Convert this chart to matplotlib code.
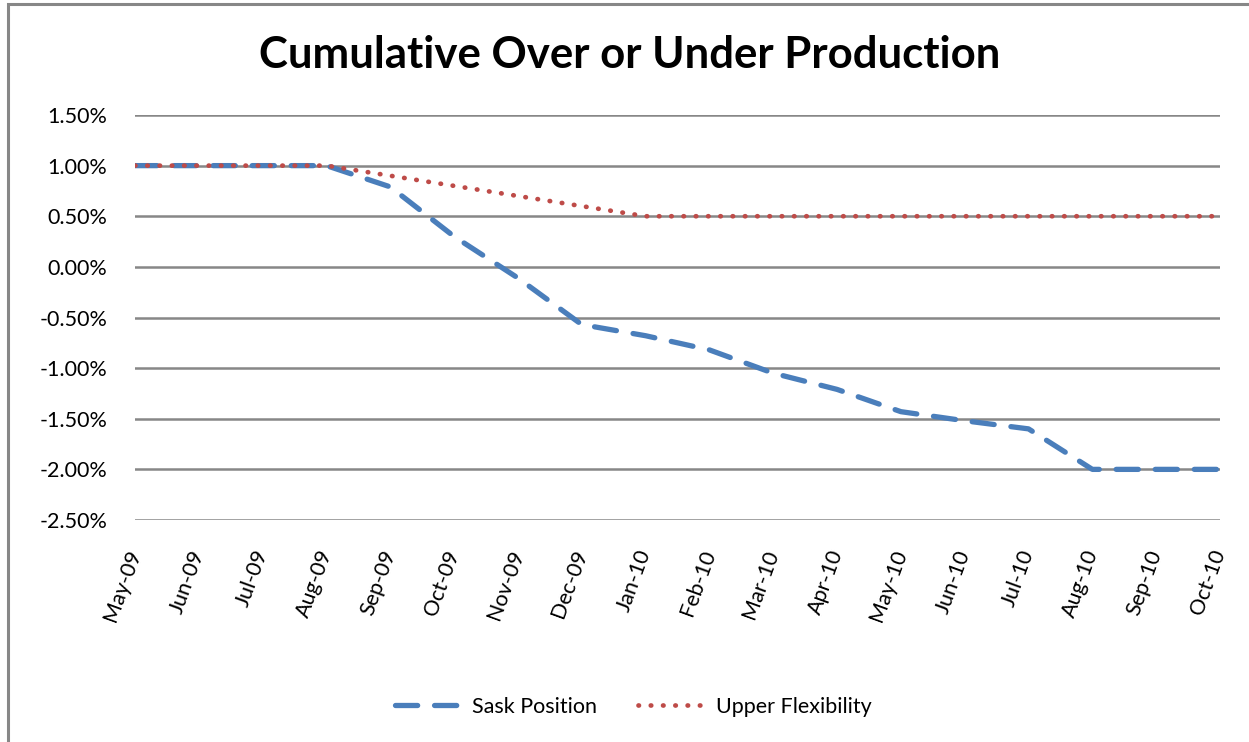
import matplotlib.pyplot as plt
from matplotlib.patches import Rectangle
from matplotlib.ticker import FuncFormatter

months = ["May-09", "Jun-09", "Jul-09", "Aug-09", "Sep-09", "Oct-09", "Nov-09", "Dec-09",
          "Jan-10", "Feb-10", "Mar-10", "Apr-10", "May-10", "Jun-10", "Jul-10", "Aug-10",
          "Sep-10", "Oct-10"]
# values in percent
sask_position = [1.00, 1.00, 1.00, 1.00, 0.79, 0.30, -0.11, -0.57, -0.68, -0.82, -1.05, -1.21,
                 -1.43, -1.52, -1.60, -2.00, -2.00, -2.00]
upper_flex = [1.00, 1.00, 1.00, 1.00, 0.90, 0.80, 0.70, 0.60, 0.50, 0.50, 0.50, 0.50,
              0.50, 0.50, 0.50, 0.50, 0.50, 0.50]
y_ticks = [1.5, 1.0, 0.5, 0.0, -0.5, -1.0, -1.5, -2.0, -2.5]

plt.rcParams['font.family'] = ['Lato', 'DejaVu Sans']

fig = plt.figure(figsize=(12.49, 7.42), dpi=100)
ax = fig.add_axes([135/1249, 1-520/742, (1220-135)/1249, (520-115)/742])

# outer chart border
fig.patches.append(Rectangle((8/1249, -0.1), 1.2, 1.1 - 4/742, transform=fig.transFigure,
                             fill=False, edgecolor='#878787', linewidth=2.2))

x = list(range(len(months)))
ax.plot(x, sask_position, color='#4A7EBB', linewidth=3.8, linestyle=(0, (4.2, 3.2)),
        dash_capstyle='round', label='Sask Position')
ax.plot(x, upper_flex, color='#BE4B48', linewidth=3.4, linestyle=(0, (0.1, 2.5)),
        dash_capstyle='round', label='Upper Flexibility')

ax.set_xlim(0, len(months) - 1)
ax.set_ylim(-2.5, 1.5)
ax.set_yticks(y_ticks)
ax.yaxis.set_major_formatter(FuncFormatter(lambda v, p: f"{v:.2f}%"))
ax.set_xticks(x)
ax.set_xticklabels(months, rotation=70, ha='right', va='center', rotation_mode='anchor')
ax.tick_params(axis='both', length=0, labelsize=15.5)
ax.tick_params(axis='x', pad=22)
ax.tick_params(axis='y', pad=20)
ax.grid(axis='y', color='#878787', linewidth=1.8)
ax.set_axisbelow(True)
for s in ax.spines.values():
    s.set_visible(False)

fig.text(0.504, 1-55/742, "Cumulative Over or Under Production", ha='center', va='center',
         fontsize=31.5, fontweight='bold')

fig.legend(loc='center', bbox_to_anchor=(633/1249, 1-707/742), ncol=2, frameon=False,
           fontsize=15.5, handlelength=3.2, columnspacing=1.9, handletextpad=0.4)

fig.savefig('out.png', dpi=100)
